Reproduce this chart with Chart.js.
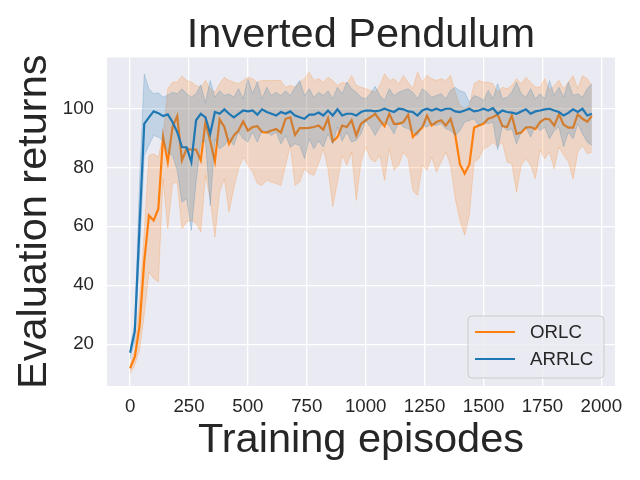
<!DOCTYPE html>
<html>
<head>
<meta charset="utf-8">
<script src="https://cdn.jsdelivr.net/npm/chart.js@4.4.1/dist/chart.umd.min.js"></script>
<style>
  html, body { margin: 0; padding: 0; background: #fff; }
  #wrap { width: 640px; height: 480px; }
</style>
</head>
<body>
<div id="wrap"><canvas id="chart" width="640" height="480"></canvas></div>
<script>
// episodios de avaliacao (a cada 20)
const episodes = [0, 20, 40, 60, 80, 100, 120, 140, 160, 180, 200, 220, 240, 260, 280, 300, 320, 340, 360, 380,
    400, 420, 440, 460, 480, 500, 520, 540, 560, 580, 600, 620, 640, 660, 680, 700, 720, 740, 760, 780,
    800, 820, 840, 860, 880, 900, 920, 940, 960, 980, 1000, 1020, 1040, 1060, 1080, 1100, 1120, 1140, 1160, 1180,
    1200, 1220, 1240, 1260, 1280, 1300, 1320, 1340, 1360, 1380, 1400, 1420, 1440, 1460, 1480, 1500, 1520, 1540, 1560, 1580,
    1600, 1620, 1640, 1660, 1680, 1700, 1720, 1740, 1760, 1780, 1800, 1820, 1840, 1860, 1880, 1900, 1920, 1940, 1960];

// ORLC: media e banda de confianca
const orlcMean = [11.8, 15.7, 26, 48, 63.7, 62, 66, 90.3, 81.8, 93.7, 97.4, 82.4, 86.3, 86, 86, 82.4, 95.4, 89, 82, 96.3,
    93.7, 88, 90.8, 92.5, 95.6, 92.5, 93.7, 94, 92, 91.8, 92.5, 93, 91.8, 96.5, 97, 91, 93.3, 93.3, 93.4, 93.7,
    94.2, 92.8, 96.7, 88.8, 90.3, 94.2, 93.7, 96, 90.8, 94.8, 96, 97, 98.2, 96, 94, 98.2, 94.8, 94.8, 95.4, 97.9,
    90.3, 92, 93.5, 97.6, 94.2, 95.4, 96, 94.2, 96.5, 91, 81, 77.9, 81, 93.5, 94.2, 94.8, 96.5, 97, 98, 94,
    93.7, 97.6, 91.4, 91.8, 93.5, 93.7, 93, 95.4, 96.5, 96.3, 94.2, 98, 94.5, 93.5, 93.5, 98, 96.5, 95.5, 97.5];
const orlcLow = [10, 13, 18, 30, 44.5, 42.3, 41.1, 76, 59.2, 74.5, 75, 59.2, 61.5, 62, 61, 58.1, 77.3, 69.4, 56.4, 71.6,
    76.2, 64.9, 72.8, 79.5, 83.5, 80.7, 78.4, 74.5, 73.9, 75.6, 75, 74.5, 73.9, 80.7, 87.5, 73.9, 75, 79.5, 77.9, 77.3,
    81.2, 86.3, 79.5, 66.6, 75, 84.1, 80.7, 85.2, 68.8, 81.8, 86.9, 82.9, 81.8, 84.1, 75.6, 86.3, 79, 80.7, 85.2, 82.9,
    72.2, 70.5, 80.7, 79, 83.5, 78.4, 81.8, 85.2, 80.7, 69.4, 62, 57, 64, 81.8, 82.9, 86.3, 87, 88.5, 87, 88.6,
    81.8, 81.2, 71.6, 80.7, 82.9, 80.7, 76.2, 85.8, 82.9, 85.2, 79.5, 86.9, 84.1, 82, 76, 85.2, 87.5, 84.6, 85.2];
const orlcHigh = [13, 18, 35, 58, 84, 84.6, 83.5, 90.8, 106.7, 108.9, 109, 111, 109.5, 109, 107.8, 107.2, 109.5, 106.7, 105.5, 108.4,
    110.6, 109.5, 108.9, 108.4, 109.5, 110.6, 110.1, 108.9, 109.5, 109.5, 109.5, 109.5, 109.5, 107.2, 107.8, 107.2, 108.9, 110.1, 112.3, 109.5,
    110.1, 108.9, 110.6, 109.5, 107.8, 108.9, 108.4, 111.2, 107.8, 107.2, 106.7, 106.1, 105.5, 107.8, 111.8, 109.5, 110.1, 108.4, 111.2, 108.9,
    106.7, 112.3, 108.9, 111.2, 110.1, 109.5, 110.1, 109.5, 111.2, 105.5, 101, 100, 101, 108.4, 109.5, 108.9, 108.9, 108.4, 105.5, 107.2,
    106.7, 107.8, 110.1, 108.4, 110.6, 108.9, 107.2, 107.2, 110.1, 106.1, 107.8, 109.5, 106.7, 108.9, 111.2, 106.7, 111.2, 110.1, 107.8];

// ARRLC: media e banda de confianca
const arrlcMean = [17.1, 24.4, 60, 94.8, 97, 99, 98.4, 97.4, 98, 95.4, 92, 86.9, 86.8, 81.8, 96, 98.2, 97, 91.4, 98.8, 98.2,
    99.7, 98.2, 97, 98.2, 99.3, 99, 99.3, 97.9, 99.7, 98.8, 98.2, 97.6, 98.8, 98.2, 99, 97.6, 97, 96.5, 97.9, 97.9,
    98.6, 97.6, 99.3, 97.6, 99.7, 97.6, 98.2, 98.2, 97.6, 98.8, 99.3, 99.3, 99, 99.3, 99.9, 99.3, 98.8, 99.9, 99.7, 99,
    98.8, 97.6, 99.3, 99.9, 99.3, 99.9, 99.3, 99.9, 99.9, 99, 98.8, 99.3, 99.9, 99, 99.3, 99.9, 99.3, 100.1, 98.2, 99.3,
    98.8, 98.6, 98.2, 99, 99.7, 98.2, 99, 99.3, 99.7, 99.9, 99.3, 98.8, 97.6, 98.5, 99.7, 98.8, 99.9, 97.6, 98.2];
const arrlcLow = [15, 21, 50, 84, 87.5, 90.8, 90.3, 89, 85, 84, 79, 68.2, 69.4, 58.6, 75, 88.6, 89, 67, 89.7, 86.3,
    87.5, 89.7, 87.5, 92, 89.7, 88.6, 92, 88.6, 92.5, 92, 90.8, 92, 88, 90.8, 86.9, 88, 87.5, 83, 89.7, 86.3,
    89, 86.9, 91.4, 88, 93.7, 89, 92, 88.6, 89.2, 91.4, 95.9, 93.7, 90.8, 93.7, 95.4, 94.2, 91.4, 95.4, 93.7, 93.1,
    92, 90.8, 94.2, 93.7, 94.8, 94.2, 94.8, 93.1, 92.5, 90.8, 92.5, 95.4, 95.9, 96.5, 94.2, 95.4, 94.8, 95.4, 86, 94.2,
    92.5, 93.1, 88, 92, 93.7, 90.3, 94.2, 92.5, 93.7, 89.7, 92.5, 93.7, 87, 92, 89.7, 94.8, 91.4, 88.6, 87.5];
const arrlcHigh = [19, 27, 75, 111.7, 106.7, 105, 105.3, 103.8, 104.6, 105.5, 105, 106.7, 105, 103.8, 105, 108, 102, 109.5, 103.8, 106,
    104.4, 105, 103.8, 106.7, 103.3, 110, 105, 109, 103.3, 107.2, 104.4, 105.5, 104.4, 106, 104.4, 107.2, 109.5, 104.4, 106.7, 103.8,
    105.5, 104.4, 106, 103.3, 107.2, 105, 109, 106.7, 105.5, 103.8, 103.3, 105, 107.5, 104.4, 102.7, 106.7, 104.4, 105.5, 106.1, 106.7,
    105.5, 103.3, 106.7, 105.5, 103.8, 104.4, 105, 103.3, 106.1, 107.2, 106, 105.5, 102.1, 104.4, 103.8, 102.7, 106.1, 103.3, 108.4, 103.3,
    103.8, 105.5, 108.9, 105, 103.8, 106.7, 103.3, 105, 103.3, 109.5, 104.4, 107.2, 103.8, 108.9, 104.4, 105, 103.8, 106.7, 108.4];

const xTicks = [0, 250, 500, 750, 1000, 1250, 1500, 1750, 2000];
const yTicks = [20, 40, 60, 80, 100];

const FONT = "'Liberation Sans', Arial, sans-serif";
const TEXT = "#262626";

function toPoints(values) {
    return episodes.map((ep, i) => ({ x: ep, y: values[i] }));
}

// fundo cinza da area do grafico (estilo seaborn)
const plotBackground = {
    id: "plotBackground",
    beforeDraw(chart) {
        const { ctx, chartArea: a } = chart;
        ctx.save();
        ctx.fillStyle = "#fff";
        ctx.fillRect(0, 0, chart.width, chart.height);
        ctx.fillStyle = "#eaeaf2";
        ctx.fillRect(a.left, a.top, a.right - a.left, a.bottom - a.top);
        ctx.restore();
    }
};

// legenda dentro do grafico, canto inferior direito
const insideLegend = {
    id: "insideLegend",
    afterDraw(chart) {
        const { ctx, chartArea: a } = chart;
        const items = chart.data.datasets.filter(d => !d.band);
        const w = 136, rowH = 27;
        const h = items.length * rowH + 8;
        const x0 = a.right - 11 - w;
        const y0 = a.bottom - 8 - h;
        ctx.save();
        ctx.beginPath();
        ctx.roundRect(x0, y0, w, h, 4);
        ctx.fillStyle = "rgba(234,234,242,0.8)";
        ctx.fill();
        ctx.strokeStyle = "#cccccc";
        ctx.lineWidth = 1;
        ctx.stroke();
        ctx.font = "18.7px " + FONT;
        ctx.textBaseline = "middle";
        items.forEach((d, i) => {
            const y = y0 + 16 + i * rowH;
            ctx.strokeStyle = d.borderColor;
            ctx.lineWidth = 2.2;
            ctx.beginPath();
            ctx.moveTo(x0 + 7, y);
            ctx.lineTo(x0 + 47, y);
            ctx.stroke();
            ctx.fillStyle = TEXT;
            ctx.fillText(d.label, x0 + 62, y + 1);
        });
        ctx.restore();
    }
};

function lineSet(label, values, color, order) {
    return { label, data: toPoints(values), borderColor: color, borderWidth: 2.2,
        pointRadius: 0, fill: false, order };
}
function bandSet(label, values, edge, bg, fillTo, order) {
    return { label, band: true, data: toPoints(values), borderColor: edge, borderWidth: 1,
        backgroundColor: bg, pointRadius: 0, fill: fillTo, order };
}

new Chart(document.getElementById("chart"), {
    type: "line",
    data: {
        datasets: [
            lineSet("ORLC", orlcMean, "#ff7f0e", 3),
            bandSet("ORLC high", orlcHigh, "rgba(255,127,14,0.22)", "rgba(255,127,14,0.2)", 2, 4),
            bandSet("ORLC low", orlcLow, "rgba(255,127,14,0.22)", "rgba(255,127,14,0.2)", false, 4),
            lineSet("ARRLC", arrlcMean, "#1f77b4", 1),
            bandSet("ARRLC high", arrlcHigh, "rgba(31,119,180,0.22)", "rgba(31,119,180,0.2)", 5, 2),
            bandSet("ARRLC low", arrlcLow, "rgba(31,119,180,0.22)", "rgba(31,119,180,0.2)", false, 2)
        ]
    },
    options: {
        responsive: false,
        animation: false,
        devicePixelRatio: 1,
        layout: { padding: { left: 0, right: 25, top: 0, bottom: 0 } },
        plugins: {
            legend: { display: false },
            tooltip: { enabled: false },
            title: {
                display: true,
                fullSize: false,
                text: "Inverted Pendulum",
                color: TEXT,
                font: { family: FONT, size: 41.5, weight: "normal", lineHeight: 1.0 },
                padding: { top: 15, bottom: 1 }
            }
        },
        scales: {
            x: {
                type: "linear",
                min: -98,
                max: 2058,
                afterBuildTicks: s => { s.ticks = xTicks.map(v => ({ value: v })); },
                afterFit: s => { s.height = 94; },
                ticks: { color: TEXT, font: { family: FONT, size: 18.7 }, padding: 10,
                    autoSkip: false, maxRotation: 0, callback: v => String(v) },
                grid: { color: "#fff", lineWidth: 1.3, drawTicks: false },
                border: { display: false },
                title: { display: true, text: "Training episodes", color: TEXT,
                    font: { family: FONT, size: 41.5, lineHeight: 1.1 }, padding: { top: 0, bottom: 17 } }
            },
            y: {
                min: 5.8,
                max: 117.3,
                afterBuildTicks: s => { s.ticks = yTicks.map(v => ({ value: v })); },
                afterFit: s => { s.width = 107; },
                ticks: { color: TEXT, font: { family: FONT, size: 18.7 }, padding: 13,
                    callback: v => String(v) },
                grid: { color: "#fff", lineWidth: 1.3, drawTicks: false },
                border: { display: false },
                title: { display: true, text: "Evaluation returns", color: TEXT,
                    font: { family: FONT, size: 41.5, lineHeight: 1.1 }, padding: { top: 12, bottom: 0 } }
            }
        }
    },
    plugins: [plotBackground, insideLegend]
});
</script>
</body>
</html>
